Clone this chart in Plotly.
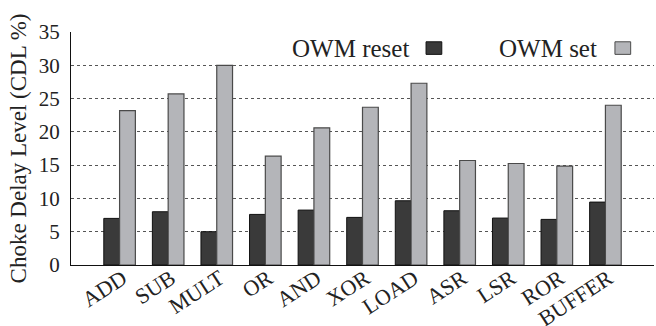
import plotly.graph_objects as go

categories = ["ADD", "SUB", "MULT", "OR", "AND", "XOR", "LOAD", "ASR", "LSR", "ROR", "BUFFER"]
owm_reset = [7.0, 8.0, 5.0, 7.6, 8.25, 7.15, 9.65, 8.15, 7.05, 6.85, 9.45]
owm_set = [23.2, 25.7, 30.0, 16.35, 20.6, 23.7, 27.3, 15.7, 15.25, 14.85, 24.0]
y_ticks = [0, 5, 10, 15, 20, 25, 30, 35]

FONT = "Liberation Serif"
DARK = "#3a3a3a"
LIGHT = "#b4b5b9"

fig = go.Figure()
fig.add_trace(go.Bar(x=categories, y=owm_reset, name="OWM reset",
                     marker=dict(color=DARK, line=dict(color="#111111", width=1))))
fig.add_trace(go.Bar(x=categories, y=owm_set, name="OWM set",
                     marker=dict(color=LIGHT, line=dict(color="#4a4a4a", width=1.2))))

fig.update_layout(
    width=656, height=326,
    margin=dict(l=71, r=2, t=32, b=61),
    paper_bgcolor="white", plot_bgcolor="white",
    barmode="group", bargap=0.35, bargroupgap=0.0,
    showlegend=False,
    font=dict(family=FONT, color="#222222", size=19),
)
fig.update_xaxes(
    type="category", range=[-1, 11], automargin=False,
    tickangle=-33, tickfont=dict(size=22, family=FONT),
    showline=True, linecolor="#111111", linewidth=1.2,
    ticks="", showgrid=False, ticklabelstandoff=-9, ticklabelshift=3,
)
fig.update_yaxes(
    range=[0, 35], tickvals=y_ticks, automargin=False,
    tickfont=dict(size=21, family=FONT),
    showline=True, linecolor="#111111", linewidth=1.2,
    ticks="", ticklabelstandoff=6,
    showgrid=True, gridcolor="#555555", griddash="dot", gridwidth=1,
    zeroline=False,
    title=dict(text="Choke Delay Level (CDL %)", font=dict(size=23, family=FONT), standoff=5),
)

# legend drawn as text followed by a swatch, as in the reference
legend_items = [("OWM reset", DARK, "#111111", 0.583, 0.609), ("OWM set", LIGHT, "#4a4a4a", 0.906, 0.933)]
for label, fill, edge, tx, sx in legend_items:
    fig.add_annotation(text=label, xref="paper", yref="paper", x=tx, y=0.931,
                       xanchor="right", yanchor="middle", showarrow=False,
                       font=dict(size=25, family=FONT, color="#222222"))
    fig.add_shape(type="rect", xref="paper", yref="paper", x0=sx, x1=sx + 0.027,
                  y0=0.904, y1=0.958, fillcolor=fill, line=dict(color=edge, width=1))

fig.write_html("out.html", config={"displayModeBar": False},
               post_script="document.body.style.margin='0';document.body.style.padding='0';")
